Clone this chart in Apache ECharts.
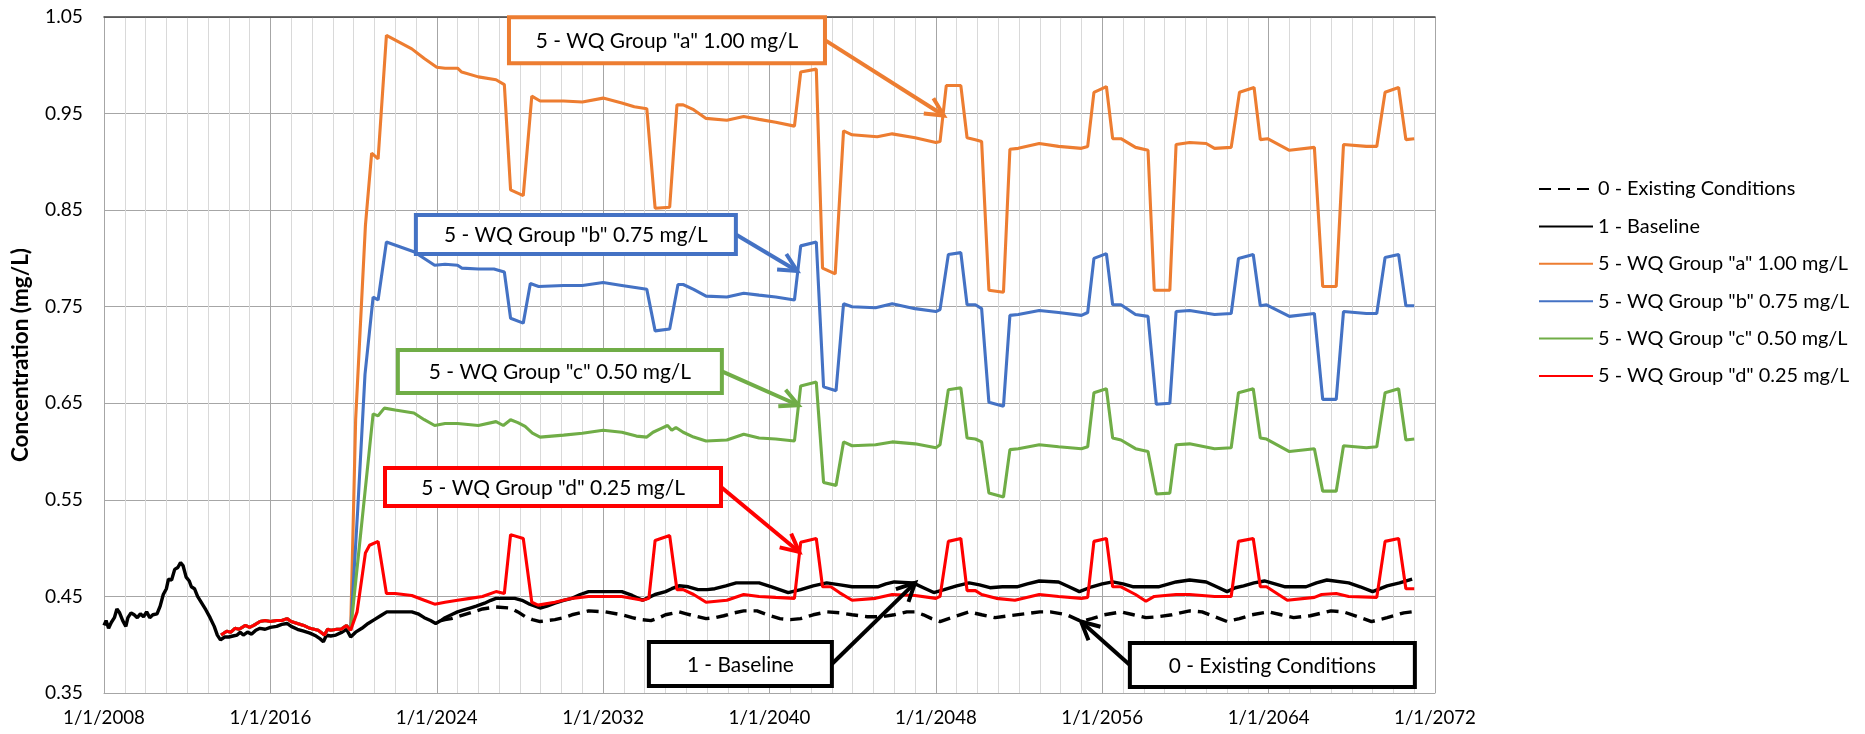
<!DOCTYPE html>
<html>
<head>
<meta charset="utf-8">
<script src="https://cdn.jsdelivr.net/npm/echarts@6/dist/echarts.min.js"></script>
<style>
  html, body { margin: 0; padding: 0; background: #ffffff; }
  #chart { width: 1865px; height: 734px; }
</style>
</head>
<body>
<div id="chart"></div>
<script>
// Time runs in decimal years, concentration in mg/L.
const seriesNames = [
  '0 - Existing Conditions',
  '1 - Baseline',
  '5 - WQ Group "a" 1.00 mg/L',
  '5 - WQ Group "b" 0.75 mg/L',
  '5 - WQ Group "c" 0.50 mg/L',
  '5 - WQ Group "d" 0.25 mg/L'
];

// Observed record shared by every scenario.
const sharedHistory = [
  [2008.00,0.420],[2008.10,0.425],[2008.22,0.417],[2008.35,0.423],[2008.50,0.428],[2008.62,0.437],
  [2008.75,0.433],[2008.90,0.425],[2009.05,0.419],[2009.15,0.428],[2009.30,0.433],[2009.45,0.431],
  [2009.60,0.428],[2009.75,0.432],[2009.90,0.429],[2010.05,0.434],[2010.20,0.428],[2010.35,0.431],
  [2010.55,0.432],[2010.70,0.440],[2010.85,0.452],[2011.00,0.458],[2011.10,0.468],[2011.25,0.467],
  [2011.40,0.478],[2011.55,0.480],[2011.68,0.485],[2011.80,0.482],[2011.95,0.470],[2012.10,0.466],
  [2012.20,0.460],[2012.35,0.458],[2012.50,0.450],[2012.70,0.443],[2012.90,0.436],[2013.10,0.428],
  [2013.30,0.419],[2013.45,0.410],[2013.60,0.405]
];

const baselineLater = [
  [2013.80,0.408],[2014.00,0.408],[2014.20,0.409],[2014.40,0.410],[2014.55,0.413],[2014.70,0.410],
  [2014.90,0.413],[2015.10,0.411],[2015.30,0.415],[2015.50,0.417],[2015.75,0.416],[2016.00,0.418],
  [2016.30,0.419],[2016.55,0.421],[2016.80,0.422],[2017.00,0.419],[2017.30,0.416],[2017.60,0.414],
  [2017.90,0.412],[2018.20,0.409],[2018.40,0.406],[2018.55,0.403],[2018.70,0.410],[2018.90,0.409],
  [2019.15,0.410],[2019.45,0.413],[2019.66,0.416],[2019.86,0.408],[2020.10,0.413],[2020.40,0.417],
  [2020.70,0.422],[2021.00,0.426],[2021.30,0.430],[2021.60,0.434],[2022.00,0.434],[2022.50,0.434],
  [2022.80,0.434],[2023.10,0.432],[2023.40,0.428],[2023.70,0.425],[2023.95,0.422],[2024.20,0.425],
  [2024.40,0.428],[2024.70,0.431],[2025.00,0.434],[2025.30,0.436],[2025.60,0.438],[2025.90,0.440],
  [2026.30,0.443],[2026.60,0.446],[2026.85,0.448],[2027.30,0.448],[2027.75,0.448],[2028.10,0.446],
  [2028.47,0.442],[2028.97,0.438],[2029.30,0.440],[2029.68,0.443],[2030.10,0.446],[2030.50,0.448],
  [2030.90,0.452],[2031.30,0.455],[2032.00,0.455],[2032.90,0.455],[2033.40,0.451],[2033.90,0.446],
  [2034.20,0.449],[2034.50,0.452],[2035.00,0.455],[2035.30,0.458],[2035.65,0.461],[2036.10,0.460],
  [2036.56,0.457],[2037.00,0.457],[2037.37,0.458],[2037.90,0.461],[2038.40,0.464],[2039.50,0.464],
  [2040.10,0.460],[2040.90,0.454],[2041.50,0.457],[2042.10,0.461],[2042.75,0.464],[2043.40,0.462],
  [2043.97,0.460],[2044.60,0.460],[2045.20,0.460],[2045.60,0.463],[2046.00,0.465],[2046.90,0.464],
  [2047.40,0.459],[2047.90,0.454],[2048.40,0.457],[2049.00,0.461],[2049.60,0.464],[2050.10,0.462],
  [2050.60,0.459],[2051.20,0.460],[2051.90,0.460],[2052.40,0.463],[2052.97,0.466],[2053.90,0.465],
  [2054.40,0.460],[2054.90,0.455],[2055.50,0.460],[2056.00,0.463],[2056.50,0.465],[2057.00,0.463],
  [2057.50,0.460],[2058.10,0.460],[2058.70,0.460],[2059.55,0.465],[2060.20,0.467],[2061.00,0.465],
  [2061.50,0.460],[2062.00,0.455],[2062.40,0.459],[2062.80,0.461],[2063.30,0.464],[2063.80,0.466],
  [2064.30,0.463],[2064.80,0.460],[2065.80,0.460],[2066.30,0.464],[2066.80,0.467],[2067.85,0.464],
  [2068.40,0.460],[2069.00,0.455],[2069.70,0.461],[2070.30,0.464],[2070.90,0.468]
];

const existingLater = [
  [2024.20,0.425],[2024.40,0.426],[2024.70,0.427],[2025.00,0.429],[2025.60,0.433],[2026.20,0.437],
  [2026.85,0.439],[2027.55,0.438],[2027.90,0.434],[2028.26,0.429],[2028.60,0.426],[2028.97,0.424],
  [2029.30,0.425],[2029.68,0.426],[2030.10,0.428],[2030.50,0.431],[2030.90,0.433],[2031.30,0.435],
  [2032.10,0.434],[2032.90,0.431],[2033.40,0.428],[2033.80,0.426],[2034.30,0.425],[2034.70,0.428],
  [2035.00,0.431],[2035.65,0.434],[2036.00,0.432],[2036.35,0.430],[2036.95,0.427],[2037.40,0.428],
  [2037.80,0.430],[2038.30,0.433],[2038.76,0.435],[2039.40,0.435],[2039.90,0.431],[2040.50,0.427],
  [2041.00,0.426],[2041.50,0.427],[2042.10,0.431],[2042.75,0.434],[2043.40,0.433],[2043.97,0.431],
  [2044.70,0.429],[2045.40,0.429],[2046.00,0.431],[2046.60,0.434],[2047.00,0.434],[2047.40,0.431],
  [2047.80,0.427],[2048.20,0.424],[2048.90,0.429],[2049.60,0.434],[2050.20,0.431],[2050.85,0.428],
  [2051.50,0.430],[2052.30,0.432],[2053.00,0.434],[2053.50,0.434],[2054.30,0.431],[2054.70,0.427],
  [2055.00,0.424],[2055.50,0.427],[2056.10,0.431],[2056.90,0.434],[2057.50,0.431],[2058.10,0.428],
  [2058.70,0.429],[2059.35,0.431],[2060.20,0.435],[2060.80,0.434],[2061.40,0.429],[2062.00,0.424],
  [2062.60,0.427],[2063.20,0.431],[2064.00,0.434],[2064.60,0.431],[2065.20,0.428],[2066.00,0.430],
  [2067.00,0.435],[2067.60,0.434],[2068.30,0.429],[2068.95,0.424],[2069.70,0.428],[2070.50,0.433],
  [2070.90,0.434]
];

// Common stretch of the four WQ group runs before treatment begins.
const pretreatment = [
  [2013.63,0.410],[2013.70,0.412],[2013.90,0.414],[2014.10,0.413],[2014.30,0.417],[2014.50,0.416],
  [2014.80,0.420],[2015.00,0.418],[2015.20,0.420],[2015.50,0.424],[2015.75,0.425],[2016.00,0.424],
  [2016.30,0.425],[2016.55,0.425],[2016.80,0.427],[2017.00,0.424],[2017.30,0.422],[2017.60,0.420],
  [2017.90,0.417],[2018.30,0.415],[2018.60,0.410],[2018.75,0.416],[2018.90,0.415],[2019.20,0.416],
  [2019.40,0.416],[2019.66,0.420],[2019.86,0.415]
];

const groupATail = [
  [2020.10,0.633],[2020.57,0.834],[2020.87,0.909],[2021.18,0.903],[2021.58,1.031],[2022.19,1.024],
  [2022.80,1.017],[2023.40,1.007],[2024.00,0.998],[2024.40,0.997],[2025.00,0.997],[2025.20,0.993],
  [2026.00,0.988],[2026.85,0.985],[2027.25,0.980],[2027.55,0.871],[2028.16,0.865],[2028.57,0.968],
  [2028.97,0.963],[2030.10,0.963],[2031.00,0.962],[2032.00,0.966],[2032.90,0.961],[2033.50,0.957],
  [2034.10,0.955],[2034.50,0.852],[2035.20,0.853],[2035.55,0.959],[2035.85,0.959],[2036.35,0.954],
  [2036.95,0.945],[2037.95,0.943],[2038.76,0.947],[2039.50,0.944],[2040.30,0.941],[2041.20,0.937],
  [2041.50,0.993],[2042.25,0.996],[2042.55,0.790],[2043.16,0.784],[2043.56,0.932],[2043.97,0.928],
  [2045.18,0.926],[2045.90,0.929],[2047.00,0.925],[2048.00,0.920],[2048.20,0.921],[2048.50,0.979],
  [2049.20,0.979],[2049.50,0.925],[2049.90,0.923],[2050.20,0.921],[2050.55,0.767],[2051.25,0.765],
  [2051.56,0.913],[2051.96,0.914],[2052.97,0.919],[2053.90,0.916],[2055.00,0.914],[2055.30,0.916],
  [2055.60,0.972],[2056.20,0.978],[2056.50,0.924],[2056.90,0.924],[2057.60,0.915],[2058.20,0.912],
  [2058.50,0.767],[2059.25,0.767],[2059.55,0.918],[2060.20,0.920],[2061.00,0.919],[2061.40,0.914],
  [2062.20,0.915],[2062.60,0.972],[2063.30,0.977],[2063.60,0.923],[2063.95,0.924],[2065.00,0.912],
  [2066.20,0.915],[2066.60,0.771],[2067.25,0.771],[2067.60,0.918],[2068.70,0.916],[2069.20,0.916],
  [2069.60,0.972],[2070.25,0.977],[2070.60,0.923],[2071.00,0.924]
];

const groupBTail = [
  [2020.20,0.540],[2020.55,0.680],[2020.94,0.760],[2021.18,0.757],[2021.58,0.817],[2022.90,0.807],
  [2023.40,0.800],[2023.90,0.793],[2024.40,0.794],[2025.00,0.793],[2025.20,0.790],[2026.00,0.789],
  [2026.75,0.789],[2027.25,0.786],[2027.55,0.738],[2028.16,0.733],[2028.50,0.774],[2028.90,0.771],
  [2030.10,0.772],[2031.00,0.772],[2032.00,0.775],[2032.90,0.772],[2034.10,0.768],[2034.50,0.725],
  [2035.20,0.727],[2035.60,0.773],[2035.85,0.773],[2036.35,0.768],[2036.95,0.761],[2037.95,0.760],
  [2038.76,0.764],[2039.50,0.762],[2040.30,0.760],[2041.20,0.757],[2041.50,0.813],[2042.25,0.817],
  [2042.60,0.667],[2043.20,0.663],[2043.56,0.753],[2043.97,0.750],[2045.10,0.749],[2045.90,0.753],
  [2047.00,0.748],[2048.00,0.745],[2048.20,0.747],[2048.60,0.804],[2049.20,0.806],[2049.50,0.752],
  [2049.90,0.752],[2050.20,0.748],[2050.55,0.651],[2051.25,0.647],[2051.56,0.741],[2051.96,0.742],
  [2052.97,0.746],[2053.90,0.744],[2055.00,0.741],[2055.30,0.744],[2055.60,0.800],[2056.20,0.805],
  [2056.50,0.752],[2056.90,0.752],[2057.60,0.742],[2058.20,0.740],[2058.60,0.649],[2059.25,0.650],
  [2059.55,0.745],[2060.20,0.746],[2061.40,0.742],[2062.20,0.743],[2062.55,0.800],[2063.26,0.804],
  [2063.60,0.751],[2063.90,0.752],[2065.00,0.740],[2066.20,0.743],[2066.60,0.654],[2067.25,0.654],
  [2067.60,0.745],[2068.70,0.743],[2069.20,0.743],[2069.60,0.801],[2070.25,0.804],[2070.60,0.751],
  [2071.00,0.751]
];

const groupCTail = [
  [2020.94,0.639],[2021.18,0.637],[2021.48,0.645],[2022.00,0.643],[2022.90,0.640],[2023.40,0.633],
  [2023.90,0.627],[2024.40,0.629],[2025.00,0.629],[2025.50,0.628],[2026.00,0.627],[2026.85,0.631],
  [2027.20,0.627],[2027.55,0.633],[2027.90,0.630],[2028.25,0.626],[2028.60,0.619],[2028.97,0.615],
  [2030.10,0.617],[2031.00,0.619],[2032.00,0.622],[2032.90,0.620],[2033.60,0.616],[2034.10,0.615],
  [2034.40,0.620],[2034.80,0.624],[2035.10,0.627],[2035.30,0.622],[2035.50,0.625],[2035.85,0.620],
  [2036.35,0.615],[2036.95,0.611],[2037.95,0.612],[2038.76,0.618],[2039.50,0.614],[2040.30,0.613],
  [2041.20,0.611],[2041.50,0.668],[2042.25,0.672],[2042.60,0.568],[2043.20,0.565],[2043.56,0.610],
  [2043.97,0.606],[2045.10,0.607],[2045.90,0.610],[2047.00,0.608],[2048.00,0.604],[2048.20,0.607],
  [2048.60,0.664],[2049.20,0.666],[2049.50,0.614],[2049.90,0.613],[2050.20,0.610],[2050.55,0.557],
  [2051.25,0.553],[2051.56,0.602],[2051.96,0.603],[2052.97,0.607],[2053.90,0.605],[2055.00,0.603],
  [2055.30,0.605],[2055.60,0.661],[2056.20,0.665],[2056.50,0.614],[2056.90,0.612],[2057.60,0.603],
  [2058.20,0.600],[2058.60,0.556],[2059.25,0.557],[2059.55,0.607],[2060.20,0.608],[2061.40,0.603],
  [2062.20,0.604],[2062.55,0.661],[2063.26,0.665],[2063.60,0.614],[2063.90,0.613],[2065.00,0.600],
  [2066.20,0.603],[2066.60,0.559],[2067.25,0.559],[2067.60,0.606],[2068.70,0.604],[2069.20,0.605],
  [2069.60,0.661],[2070.25,0.665],[2070.60,0.612],[2071.00,0.613]
];

const groupDTail = [
  [2020.17,0.434],[2020.57,0.495],[2020.77,0.503],[2021.18,0.507],[2021.58,0.453],[2022.00,0.453],
  [2022.80,0.451],[2023.40,0.446],[2023.90,0.442],[2024.40,0.444],[2025.00,0.446],[2025.60,0.448],
  [2026.20,0.450],[2026.85,0.455],[2027.25,0.453],[2027.55,0.514],[2028.16,0.510],[2028.57,0.444],
  [2028.87,0.441],[2029.68,0.444],[2030.50,0.448],[2031.30,0.450],[2032.90,0.450],[2033.90,0.446],
  [2034.20,0.448],[2034.50,0.508],[2035.20,0.513],[2035.55,0.457],[2035.85,0.457],[2036.35,0.452],
  [2036.95,0.444],[2037.95,0.446],[2038.76,0.452],[2039.50,0.450],[2040.30,0.449],[2041.20,0.448],
  [2041.50,0.506],[2042.25,0.510],[2042.55,0.460],[2042.95,0.460],[2043.36,0.454],[2043.97,0.446],
  [2045.10,0.448],[2045.90,0.452],[2047.00,0.451],[2048.00,0.448],[2048.20,0.450],[2048.60,0.507],
  [2049.20,0.510],[2049.50,0.456],[2049.90,0.456],[2050.20,0.452],[2050.90,0.448],[2051.80,0.446],
  [2052.97,0.452],[2053.90,0.450],[2055.00,0.448],[2055.30,0.449],[2055.60,0.507],[2056.20,0.510],
  [2056.50,0.460],[2056.90,0.460],[2057.60,0.452],[2058.10,0.445],[2058.50,0.450],[2059.55,0.452],
  [2060.20,0.452],[2061.40,0.450],[2062.20,0.450],[2062.55,0.507],[2063.26,0.510],[2063.60,0.460],
  [2063.90,0.460],[2064.90,0.446],[2066.20,0.449],[2066.55,0.452],[2067.25,0.453],[2067.85,0.450],
  [2069.20,0.449],[2069.60,0.507],[2070.25,0.510],[2070.60,0.458],[2071.00,0.458]
];

const seriesColors = ['#000000', '#000000', '#ED7D31', '#4472C4', '#70AD47', '#FF0000'];

const seriesData = [
  existingLater,
  sharedHistory.concat(baselineLater),
  pretreatment.concat(groupATail),
  pretreatment.concat(groupBTail),
  pretreatment.concat(groupCTail),
  pretreatment.concat(groupDTail)
];

// Callout boxes: centre in axis units, box size in pixels, arrow tip in axis units.
const callouts = [
  { text: '5 - WQ Group "a" 1.00 mg/L', color: '#ED7D31', center: [2035.07, 1.026], size: [316, 46], side: 'right', tip: [2048.38, 0.948] },
  { text: '5 - WQ Group "b" 0.75 mg/L', color: '#4472C4', center: [2030.69, 0.8248], size: [320, 39], side: 'right', tip: [2041.33, 0.787] },
  { text: '5 - WQ Group "c" 0.50 mg/L', color: '#70AD47', center: [2029.92, 0.683], size: [324, 43], side: 'right', tip: [2041.39, 0.648] },
  { text: '5 - WQ Group "d" 0.25 mg/L', color: '#FF0000', center: [2029.59, 0.5633], size: [336, 38], side: 'right', tip: [2041.43, 0.496] },
  { text: '1 - Baseline', color: '#000000', center: [2038.60, 0.380], size: [183, 44], side: 'right', tip: [2047.00, 0.464] },
  { text: '0 - Existing Conditions', color: '#000000', center: [2064.18, 0.379], size: [285, 44], side: 'left', tip: [2054.98, 0.424] }
];

const FONT = 'Lato, "Open Sans", sans-serif';

// Pick a font size so a sample string spans the wanted width.
const measureCtx = document.createElement('canvas').getContext('2d');
function fitSize(sample, width, weight) {
  measureCtx.font = (weight || 'normal') + ' 100px ' + FONT;
  return Math.round(1000 * width / measureCtx.measureText(sample).width) / 10;
}
const boxFontSize = fitSize('5 - WQ Group "a" 1.00 mg/L', 262);
const legendFontSize = fitSize('5 - WQ Group "a" 1.00 mg/L', 250);
const xLabelSize = fitSize('1/1/2008', 82);
const yLabelSize = fitSize('0.45', 38);
const titleSize = fitSize('Concentration (mg/L)', 214, 'bold');

const chart = echarts.init(document.getElementById('chart'), null, { renderer: 'canvas' });

const LEGEND_ROW = 22;

const option = {
  animation: false,
  backgroundColor: '#ffffff',
  grid: { left: 104, right: 430, top: 17, bottom: 41, containLabel: false },
  legend: {
    orient: 'vertical',
    left: 1533,
    top: 173,
    itemWidth: 54,
    itemHeight: LEGEND_ROW,
    itemGap: 15.4,
    itemStyle: { opacity: 0 },
    textStyle: { fontFamily: FONT, fontSize: legendFontSize, lineHeight: LEGEND_ROW, color: '#000000' },
    data: seriesNames
  },
  xAxis: [{
    type: 'value',
    min: 2008,
    max: 2072,
    interval: 8,
    axisLine: { show: true, lineStyle: { color: '#A6A6A6', width: 1 } },
    axisTick: { show: false },
    minorTick: { show: false, splitNumber: 8 },
    axisLabel: { fontFamily: FONT, fontSize: xLabelSize, color: '#000000', margin: 15, formatter: v => '1/1/' + v },
    splitLine: { show: true, lineStyle: { color: '#A6A6A6', width: 1 } },
    minorSplitLine: { show: true, lineStyle: { color: '#D9D9D9', width: 1 } }
  }, {
    type: 'value',
    position: 'top',
    min: 2008,
    max: 2072,
    axisLine: { show: true, lineStyle: { color: '#404040', width: 1.5 } },
    axisTick: { show: false },
    axisLabel: { show: false },
    splitLine: { show: false }
  }],
  yAxis: {
    type: 'value',
    min: 0.35,
    max: 1.05,
    interval: 0.1,
    name: 'Concentration (mg/L)',
    nameLocation: 'middle',
    nameGap: Math.round(104 - 21 - titleSize / 2),
    nameTextStyle: { fontFamily: FONT, fontSize: titleSize, fontWeight: 'bold', color: '#000000' },
    axisLine: { show: true, lineStyle: { color: '#A6A6A6', width: 1 } },
    axisTick: { show: false },
    axisLabel: { fontFamily: FONT, fontSize: yLabelSize, color: '#000000', margin: 21, formatter: v => v.toFixed(2) },
    splitLine: { show: true, lineStyle: { color: '#A6A6A6', width: 1 } }
  },
  series: seriesNames.map((name, i) => ({
    name: name,
    type: 'line',
    xAxisIndex: 0,
    data: seriesData[i],
    symbol: 'none',
    showSymbol: false,
    smooth: false,
    color: seriesColors[i],
    lineStyle: {
      color: seriesColors[i],
      width: i < 2 ? 3.4 : 3.1,
      type: i === 0 ? [12, 7] : 'solid'
    },
    z: 2 + i
  }))
};

chart.setOption(option);

// Callout boxes with arrows pointing to the lines.
function arrowHead(from, tip, len, half) {
  const dx = tip[0] - from[0], dy = tip[1] - from[1];
  const d = Math.hypot(dx, dy) || 1;
  const ux = dx / d, uy = dy / d;
  const bx = tip[0] - ux * len, by = tip[1] - uy * len;
  return [[bx - uy * half, by + ux * half], [tip[0], tip[1]], [bx + uy * half, by - ux * half]];
}

const graphics = [];
callouts.forEach(c => {
  const ctr = chart.convertToPixel({ gridIndex: 0 }, c.center);
  const tip = chart.convertToPixel({ gridIndex: 0 }, c.tip);
  const w = c.size[0], h = c.size[1];
  const x0 = ctr[0] - w / 2, y0 = ctr[1] - h / 2;
  const start = c.side === 'right' ? [x0 + w, ctr[1]] : [x0, ctr[1]];
  graphics.push({
    type: 'line', z: 100,
    shape: { x1: start[0], y1: start[1], x2: tip[0], y2: tip[1] },
    style: { stroke: c.color, lineWidth: 4 }
  });
  graphics.push({
    type: 'polyline', z: 100,
    shape: { points: arrowHead(start, tip, 18, 9) },
    style: { stroke: c.color, lineWidth: 4, fill: null, lineJoin: 'miter' }
  });
  graphics.push({
    type: 'rect', z: 101,
    shape: { x: x0, y: y0, width: w, height: h },
    style: { fill: '#ffffff', stroke: c.color, lineWidth: 4 }
  });
  graphics.push({
    type: 'text', z: 102,
    style: {
      text: c.text, x: ctr[0], y: ctr[1] + 1,
      align: 'center', verticalAlign: 'middle',
      font: boxFontSize + 'px ' + FONT, fill: '#000000'
    }
  });
});
chart.setOption({ graphic: graphics });
</script>
</body>
</html>
